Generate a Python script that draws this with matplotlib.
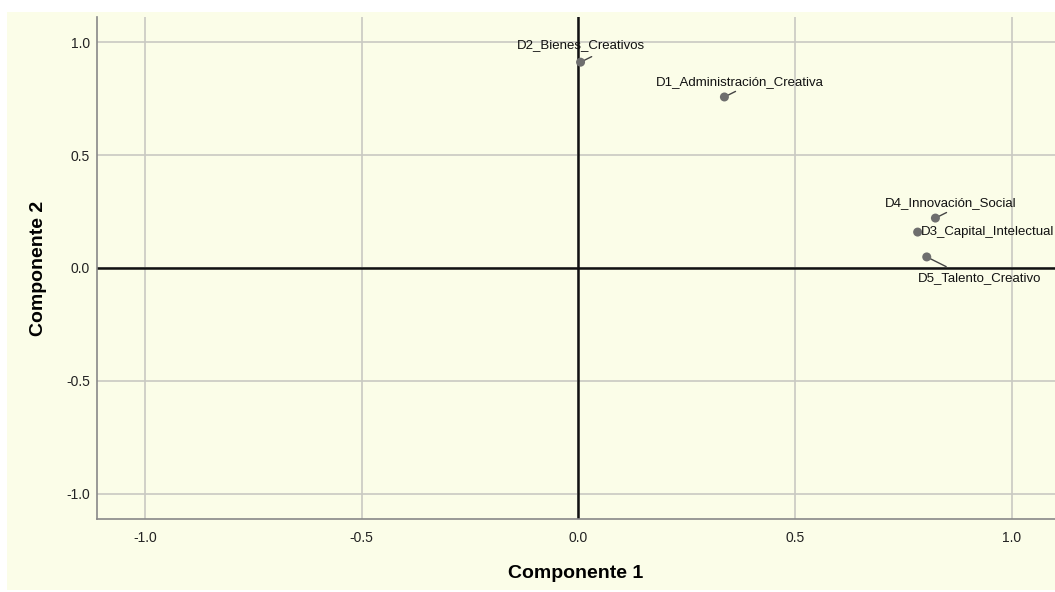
import matplotlib
matplotlib.use("Agg")
import matplotlib.pyplot as plt
from matplotlib.patches import Rectangle

plt.rcParams["font.family"] = ["Liberation Sans", "DejaVu Sans"]

labels = ["D1_Administración_Creativa", "D2_Bienes_Creativos", "D3_Capital_Intelectual",
          "D4_Innovación_Social", "D5_Talento_Creativo"]
comp1 = [0.337, 0.005, 0.783, 0.824, 0.804]
comp2 = [0.757, 0.911, 0.159, 0.221, 0.049]
ticks = [-1.0, -0.5, 0.0, 0.5, 1.0]
tick_labels = ["-1.0", "-0.5", "0.0", "0.5", "1.0"]

# label offsets in points (dx, dy) and alignment
offsets = {
    "D1_Administración_Creativa": (11, 11, "center"),
    "D2_Bienes_Creativos": (0, 12, "center"),
    "D3_Capital_Intelectual": (2, 0, "left"),
    "D4_Innovación_Social": (11, 11, "center"),
    "D5_Talento_Creativo": (38, -15, "center"),
}
leaders = {
    "D1_Administración_Creativa": (8, 4),
    "D2_Bienes_Creativos": (8, 4),
    "D4_Innovación_Social": (8, 4),
    "D5_Talento_Creativo": (14, -7),
}

W, H = 1055, 592
fig = plt.figure(figsize=(W / 100, H / 100), dpi=100, facecolor="white")
bg = "#fbfde8"
fig.patches.append(Rectangle((7 / W, 2 / H), 1 - 7 / W, 1 - 14 / H, transform=fig.transFigure,
                             facecolor=bg, edgecolor="none", zorder=-10))
ax = fig.add_axes([97 / W, 1 - 519 / H, 1 - 97 / W, (519 - 17) / H])
ax.set_facecolor(bg)
ax.set_xlim(-1.111, 1.100)
ax.set_ylim(-1.111, 1.111)
ax.set_xticks(ticks)
ax.set_xticklabels(tick_labels)
ax.set_yticks(ticks)
ax.set_yticklabels(tick_labels)
ax.tick_params(axis="x", length=0, labelsize=10, colors="#222222", pad=9)
ax.tick_params(axis="y", length=0, labelsize=10, colors="#222222", pad=5)
ax.grid(True, color="#c9c9c2", linewidth=1.2, zorder=0)
for s in ["top", "right"]:
    ax.spines[s].set_visible(False)
for s in ["left", "bottom"]:
    ax.spines[s].set_color("#888888")
    ax.spines[s].set_linewidth(1.2)
ax.axhline(0, color="#111111", linewidth=1.8, zorder=2)
ax.axvline(0, color="#111111", linewidth=1.8, zorder=2)

ax.scatter(comp1, comp2, s=42, color="#6e6e6e", zorder=4, edgecolors="none")
for lab, x, y in zip(labels, comp1, comp2):
    dx, dy, ha = offsets[lab]
    if lab in leaders:
        lx, ly = leaders[lab]
        ax.annotate("", xy=(x, y), xytext=(lx, ly), textcoords="offset points",
                    arrowprops=dict(arrowstyle="-", color="#444444", lw=1.0, shrinkA=0, shrinkB=0),
                    zorder=3)
    ax.annotate(lab, xy=(x, y), xytext=(dx, dy), textcoords="offset points",
                ha=ha, va="center", fontsize=9.5, color="#111111", zorder=5)

ax.set_xlabel("Componente 1", fontsize=14, fontweight="bold", labelpad=14)
ax.set_ylabel("Componente 2", fontsize=14, fontweight="bold", labelpad=14)

fig.savefig("out.png", dpi=100, facecolor="white")
